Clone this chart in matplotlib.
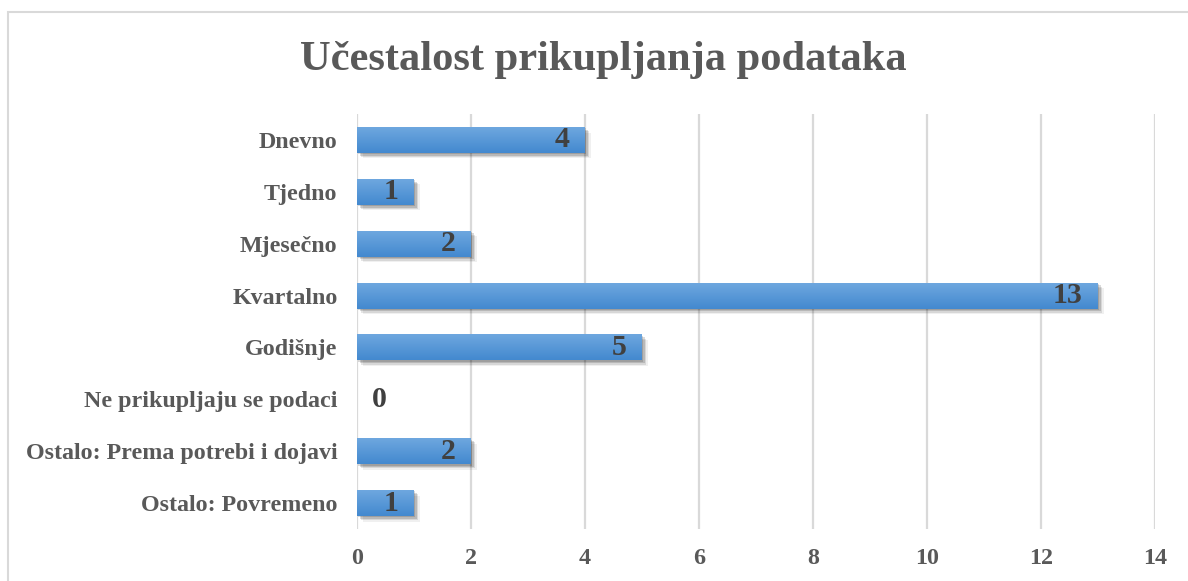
import numpy as np
import matplotlib
matplotlib.use("Agg")
from matplotlib import pyplot as plt
from matplotlib import patheffects
from matplotlib.patches import Rectangle

categories = [
    "Dnevno",
    "Tjedno",
    "Mjesečno",
    "Kvartalno",
    "Godišnje",
    "Ne prikupljaju se podaci",
    "Ostalo: Prema potrebi i dojavi",
    "Ostalo: Povremeno",
]
counts = [4, 1, 2, 13, 5, 0, 2, 1]
x_ticks = [0, 2, 4, 6, 8, 10, 12, 14]
title = "Učestalost prikupljanja podataka"

plt.rcParams["font.family"] = ["Liberation Serif", "DejaVu Serif"]
plt.rcParams["font.weight"] = "bold"

fig = plt.figure(figsize=(11.88, 5.81), dpi=100)
ax = fig.add_axes([357 / 1188, 1 - 529 / 581, (1155 - 357) / 1188, (529 - 114) / 581])

# chart border (like the Excel chart frame)
fig.patches.append(Rectangle((8 / 1188, -0.1), 1.2, 1 - 12 / 581 + 0.1,
                             transform=fig.transFigure, fill=False,
                             edgecolor="#d9d9d9", linewidth=1.5))

y = np.arange(len(categories))
bars = ax.barh(y, counts, height=0.5, color="#5b9bd5", zorder=3)

# vertical gradient + soft shadow on each bar
grad = np.linspace(0, 1, 64).reshape(-1, 1)
cmap = matplotlib.colors.LinearSegmentedColormap.from_list("g", ["#4389cf", "#6ea7df"])
shadow = [patheffects.SimplePatchShadow(offset=(o, -o), shadow_rgbFace="#000000", alpha=a)
          for o, a in [(4, 0.06), (3, 0.1), (2, 0.14), (1, 0.14)]]
for b in bars:
    if b.get_width() == 0:
        continue
    b.set_path_effects(shadow + [patheffects.Normal()])
    x0, y0 = b.get_x(), b.get_y()
    im = ax.imshow(grad, cmap=cmap, aspect="auto", zorder=4,
                   extent=(x0, x0 + b.get_width(), y0, y0 + b.get_height()))
    im.set_clip_path(b)

for yi, v in zip(y, counts):
    if v == 0:
        ax.annotate(str(v), (v, yi), xytext=(11, 0), textcoords="offset points",
                    ha="left", va="center", fontsize=21.5, color="#404040", zorder=5)
    else:
        ax.annotate(str(v), (v, yi), xytext=(-11, 0), textcoords="offset points",
                    ha="right", va="center", fontsize=21.5, color="#404040", zorder=5)

ax.set_xlim(0, 14)
ax.set_ylim(len(categories) - 0.5, -0.5)
ax.set_xticks(x_ticks)
ax.set_yticks(y)
ax.set_yticklabels(categories)
ax.tick_params(axis="both", length=0, labelsize=17.3, colors="#595959")
ax.tick_params(axis="x", pad=14)
ax.tick_params(axis="y", pad=14)
for s in ax.spines.values():
    s.set_visible(False)
ax.grid(axis="x", color="#d9d9d9", linewidth=1.6, zorder=0)
ax.set_axisbelow(True)

fig.text(603 / 1188, 1 - 60 / 581, title, ha="center", va="center",
         fontsize=30.6, fontweight="bold", color="#595959")

fig.savefig("out.png", dpi=100)
